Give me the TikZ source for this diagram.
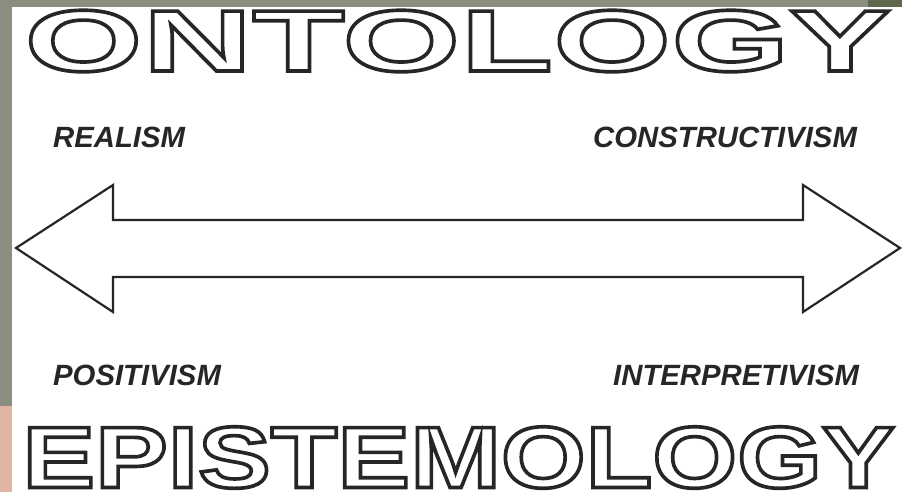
\documentclass[tikz,border=0pt]{standalone}
\usepackage{fontspec}
\setmainfont{Liberation Sans}
\newfontface\titleA[FakeStretch=1.745,FakeBold=4.2]{Liberation Sans Bold}
\newfontface\titleB[FakeStretch=1.253,FakeBold=4.2]{Liberation Sans Bold}
\definecolor{stripgray}{HTML}{8A8E7F}
\definecolor{darkolive}{HTML}{5E684E}
\definecolor{peach}{HTML}{E2B4A4}
\definecolor{ink}{HTML}{262626}
\newcommand{\strokeink}{\special{pdf:literal direct 0.149 0.149 0.149 RG}}
\begin{document}
\begin{tikzpicture}[x=1pt,y=-1pt,
  lbl/.style={font=\fontsize{29.3}{32}\selectfont\bfseries\itshape, inner sep=0pt, anchor=base west, text=ink},
  ttl/.style={inner sep=0pt, anchor=base, text=white},
  bigarrow/.style={draw=ink, line width=2.2pt, fill=white, line join=miter}]
\useasboundingbox (0,0) rectangle (902,492);
\fill[white] (0,0) rectangle (902,492);
\fill[stripgray] (0,0) rectangle (12,492);
\fill[peach] (0,406) rectangle (12,492);
% titles
\node[ttl, font=\titleA\fontsize{87}{95}\selectfont] (onto) at (457.5,71)
  {\strokeink ONTOLOGY};
\node[ttl, font=\titleB\fontsize{87}{95}\selectfont] (epis) at (458.5,487.5)
  {\strokeink EPISTEMOLOGY};
% top strip over title top
\fill[stripgray] (0,0) rectangle (868,7);
\fill[darkolive] (868,0) rectangle (902,7);
% double arrow
\draw[bigarrow] (16,248) -- (113,185) -- (113,220) -- (803,220) -- (803,185)
  -- (900,248) -- (803,312) -- (803,277) -- (113,277) -- (113,312) -- cycle;
% labels
\node[lbl] (realism) at (53,147) {REALISM};
\node[lbl] (constr) at (593,147) {CONSTRUCTIVISM};
\node[lbl] (posit) at (53,385) {POSITIVISM};
\node[lbl] (interp) at (613,385) {INTERPRETIVISM};
\end{tikzpicture}
\end{document}
